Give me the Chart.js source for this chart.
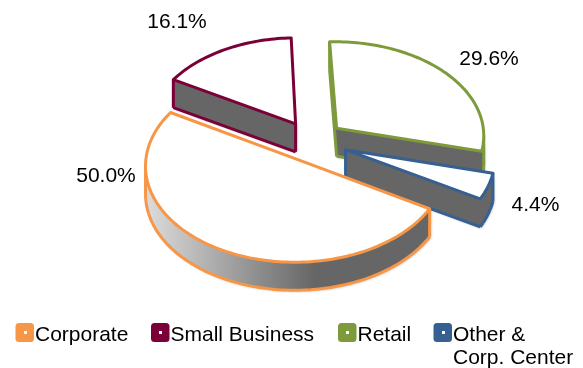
<!DOCTYPE html>
<html>
<head>
<meta charset="utf-8">
<style>
  html, body { margin: 0; padding: 0; background: #fff; }
  canvas { display: block; }
</style>
<script src="https://cdn.jsdelivr.net/npm/chart.js@4"></script>
</head>
<body>
<canvas id="segmentChart" width="583" height="368"></canvas>
<script>
const categories = ['Corporate', 'Small Business', 'Retail', 'Other & Corp. Center'];
const shares = [50.0, 16.1, 29.6, 4.4];
const sliceColors = ['#F79646', '#7B0038', '#7D9B3B', '#366092'];
const sliceOffsets = [32, 32, 32, 36];

// layout of the text, not data
const shareLabelSpots = [[106, 176.5], [177, 22], [489, 59], [535.5, 205]];
const legendSpots = [
  { x: 15.5, lines: ['Corporate'] },
  { x: 151, lines: ['Small Business'] },
  { x: 338, lines: ['Retail'] },
  { x: 433.5, lines: ['Other &', 'Corp. Center'] }
];

// look of the tilted pie
const tilt = 0.635;
const perspective = 0.067;
const wallHeight = 28;
const font = '21px "Liberation Sans", Arial, sans-serif';

function tiltPoint(arc, dx, dy) {
  const s = 1 / (1 - perspective * dy / arc.outerRadius);
  return { x: arc.x + dx * s, y: arc.y + dy * tilt * s };
}

// outline of a slice: tip, then points round the rim
function sliceOutline(arc, offset) {
  const mid = (arc.startAngle + arc.endAngle) / 2;
  const ox = Math.cos(mid) * offset;
  const oy = Math.sin(mid) * offset;
  const pts = [tiltPoint(arc, ox, oy)];
  const steps = Math.ceil((arc.endAngle - arc.startAngle) * 40);
  for (let i = 0; i <= steps; i++) {
    const a = arc.startAngle + (arc.endAngle - arc.startAngle) * i / steps;
    pts.push(tiltPoint(arc, ox + Math.cos(a) * arc.outerRadius, oy + Math.sin(a) * arc.outerRadius));
  }
  return pts;
}

function drawSlice(ctx, arc, offset, color, wallFill) {
  const pts = sliceOutline(arc, offset);
  const n = pts.length;
  const facing = pts.map((p, i) => pts[(i + 1) % n].x - p.x < 0);

  // side walls, only the edges turned towards the viewer
  ctx.save();
  ctx.shadowColor = 'rgba(0,0,0,0.35)';
  ctx.shadowBlur = 3;
  ctx.shadowOffsetX = 1;
  ctx.shadowOffsetY = 1;
  ctx.beginPath();
  pts.forEach((p, i) => {
    if (!facing[i]) return;
    const q = pts[(i + 1) % n];
    ctx.moveTo(p.x, p.y);
    ctx.lineTo(q.x, q.y);
    ctx.lineTo(q.x, q.y + wallHeight);
    ctx.lineTo(p.x, p.y + wallHeight);
    ctx.closePath();
  });
  ctx.fillStyle = wallFill;
  ctx.fill();
  ctx.restore();

  ctx.strokeStyle = color;
  ctx.lineWidth = 3;
  ctx.lineJoin = 'round';
  ctx.beginPath();
  pts.forEach((p, i) => {
    const q = pts[(i + 1) % n];
    if (facing[i]) {
      ctx.moveTo(p.x, p.y + wallHeight);
      ctx.lineTo(q.x, q.y + wallHeight);
    }
    if (facing[i] !== facing[(i + 1) % n]) {
      ctx.moveTo(q.x, q.y);
      ctx.lineTo(q.x, q.y + wallHeight);
    }
  });
  ctx.stroke();

  // top face
  ctx.beginPath();
  pts.forEach((p, i) => (i ? ctx.lineTo(p.x, p.y) : ctx.moveTo(p.x, p.y)));
  ctx.closePath();
  ctx.fillStyle = '#fff';
  ctx.fill();
  ctx.stroke();
}

const tiltedPie = {
  id: 'tiltedPie',
  beforeDatasetsDraw(chart) {
    const ctx = chart.ctx;
    const arcs = chart.getDatasetMeta(0).data;

    const sweep = ctx.createLinearGradient(146, 0, 315, 0);
    sweep.addColorStop(0, '#dcdcdc');
    sweep.addColorStop(1, '#666666');

    // back slices first
    const order = arcs.map((arc, i) => i).sort((a, b) =>
      Math.sin((arcs[a].startAngle + arcs[a].endAngle) / 2) - Math.sin((arcs[b].startAngle + arcs[b].endAngle) / 2));
    order.forEach(i => {
      drawSlice(ctx, arcs[i], arcs[i].options.offset, sliceColors[i], i === 0 ? sweep : '#666666');
    });

    ctx.fillStyle = '#000';
    ctx.font = font;
    ctx.textAlign = 'center';
    ctx.textBaseline = 'middle';
    shares.forEach((v, i) => {
      ctx.fillText(v.toFixed(1) + '%', shareLabelSpots[i][0], shareLabelSpots[i][1]);
    });
    return false;
  },
  afterDraw(chart) {
    const ctx = chart.ctx;
    ctx.save();
    ctx.font = font;
    ctx.textAlign = 'left';
    ctx.textBaseline = 'alphabetic';
    legendSpots.forEach((item, i) => {
      ctx.fillStyle = sliceColors[i];
      ctx.beginPath();
      ctx.roundRect(item.x, 323, 18.5, 19, 3.5);
      ctx.fill();
      ctx.fillStyle = '#fff';
      ctx.fillRect(Math.round(item.x + 8), 331, 3, 3);
      ctx.fillStyle = '#000';
      item.lines.forEach((line, j) => ctx.fillText(line, item.x + 19.5, 341 + j * 23));
    });
    ctx.restore();
  }
};

new Chart(document.getElementById('segmentChart'), {
  type: 'pie',
  data: {
    labels: categories,
    datasets: [{
      data: shares,
      backgroundColor: sliceColors,
      offset: sliceOffsets
    }]
  },
  options: {
    responsive: false,
    animation: false,
    rotation: 120,
    radius: 148,
    layout: { padding: { left: 41, bottom: 86 } },
    plugins: {
      legend: { display: false },
      tooltip: { enabled: false }
    }
  },
  plugins: [tiltedPie]
});
</script>
</body>
</html>
